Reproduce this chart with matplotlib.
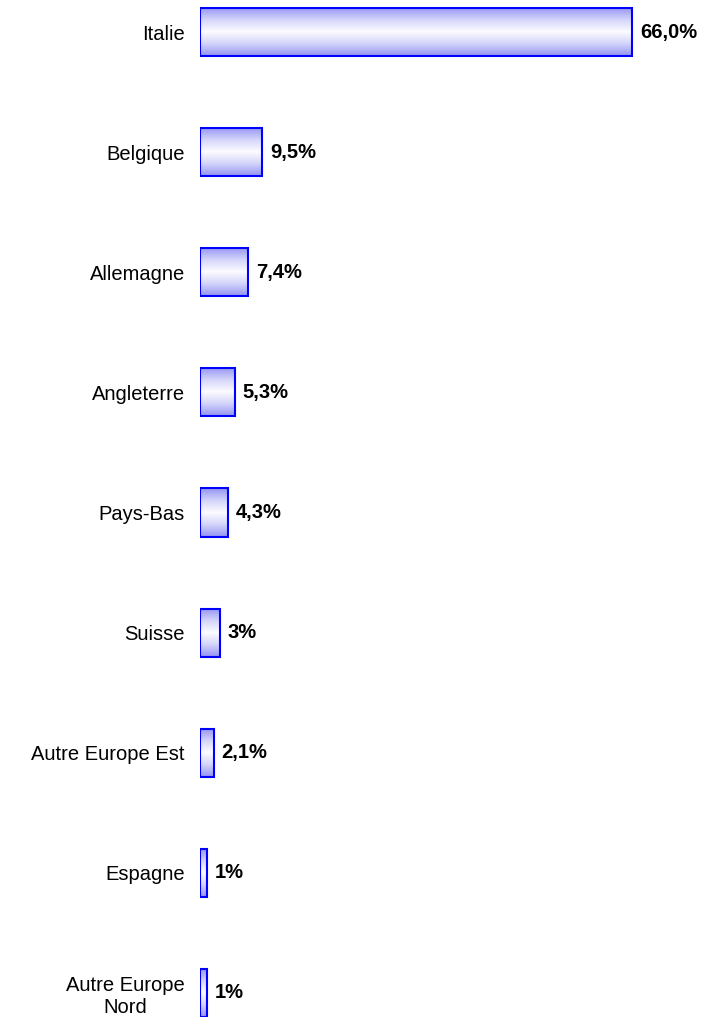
import numpy as np
import matplotlib.pyplot as plt
from matplotlib.colors import LinearSegmentedColormap

pays = ["Italie", "Belgique", "Allemagne", "Angleterre", "Pays-Bas", "Suisse",
        "Autre Europe Est", "Espagne", "Autre Europe\nNord"]
parts = [66.0, 9.5, 7.4, 5.3, 4.3, 3.0, 2.1, 1.0, 1.0]
etiquettes = ["66,0%", "9,5%", "7,4%", "5,3%", "4,3%", "3%", "2,1%", "1%", "1%"]

plt.rcParams['font.family'] = ['Liberation Sans', 'DejaVu Sans']

fig = plt.figure(figsize=(7.17, 10.17), dpi=100)
ax = fig.add_axes([200 / 717, 0, 517 / 717, 1])

# gradient: blue at top/bottom edges, nearly white in the middle
cmap = LinearSegmentedColormap.from_list(
    "bleu", [(0.0, "#9494f3"), (0.25, "#d4d4fb"), (0.5, "#fcfcff"),
             (0.75, "#d4d4fb"), (1.0, "#9494f3")])
grad = np.linspace(0, 1, 64).reshape(-1, 1)

h = 0.4
y = np.arange(len(pays))
bars = ax.barh(y, parts, height=h, facecolor="none", edgecolor="#0000ff",
               linewidth=1.5, zorder=3)
for b in bars:
    x0, y0 = b.get_x(), b.get_y()
    ax.imshow(grad, cmap=cmap, aspect="auto", interpolation="bicubic",
              extent=(x0, x0 + b.get_width(), y0 + b.get_height(), y0),
              zorder=2)

for yi, v, t in zip(y, parts, etiquettes):
    ax.text(v + 1.2, yi, t, va="center", ha="left", fontsize=14.5,
            fontweight="bold")

ax.set_xlim(0, 517 / 6.545)
ax.set_ylim(8 + 24 / 120.1, -32 / 120.1)
ax.set_yticks(y)
ax.set_yticklabels(pays, fontsize=14.5, multialignment="center",
                   linespacing=1.2)
ax.tick_params(axis="y", length=0, pad=11)
ax.set_xticks([])
for s in ax.spines.values():
    s.set_visible(False)

fig.savefig("out.png", dpi=100)
